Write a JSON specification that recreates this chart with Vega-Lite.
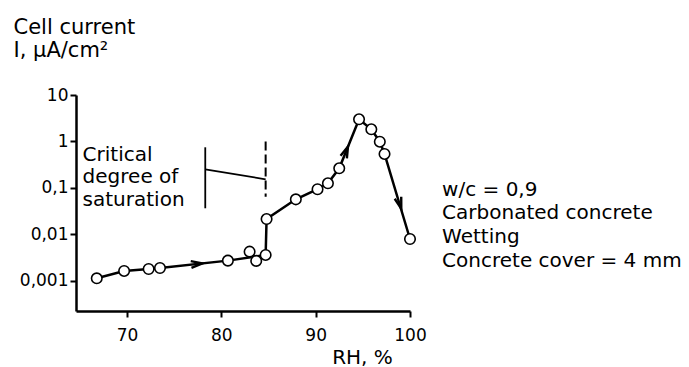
{
  "$schema": "https://vega.github.io/schema/vega-lite/v6.json",
  "width": 334,
  "height": 216,
  "autosize": {"type": "none"},
  "padding": {"left": 76, "top": 95, "right": 279, "bottom": 56},
  "background": "white",
  "config": {
    "view": {"stroke": null},
    "font": "DejaVu Sans",
    "axis": {
      "domainColor": "black",
      "domainWidth": 2.5,
      "tickColor": "black",
      "tickWidth": 2,
      "tickSize": 6,
      "labelColor": "black",
      "labelFont": "DejaVu Sans",
      "labelFontSize": 17,
      "titleColor": "black",
      "titleFont": "DejaVu Sans",
      "titleFontWeight": "normal",
      "grid": false
    }
  },
  "datasets": {
    "points": [
      {"x": 66.8, "y": 0.00114, "onLine": true},
      {"x": 69.7, "y": 0.00164, "onLine": true},
      {"x": 72.3, "y": 0.00181, "onLine": true},
      {"x": 73.5, "y": 0.0019, "onLine": true},
      {"x": 80.7, "y": 0.00274, "onLine": true},
      {"x": 83.0, "y": 0.00427, "onLine": false},
      {"x": 83.7, "y": 0.0027, "onLine": false},
      {"x": 84.7, "y": 0.00363, "onLine": true},
      {"x": 84.8, "y": 0.0215, "onLine": true},
      {"x": 87.9, "y": 0.057, "onLine": true},
      {"x": 90.2, "y": 0.094, "onLine": true},
      {"x": 91.3, "y": 0.126, "onLine": true},
      {"x": 92.5, "y": 0.265, "onLine": true},
      {"x": 94.6, "y": 3.0, "onLine": true},
      {"x": 95.9, "y": 1.83, "onLine": true},
      {"x": 96.8, "y": 0.99, "onLine": true},
      {"x": 97.3, "y": 0.54, "onLine": true},
      {"x": 100, "y": 0.008, "onLine": true}
    ],
    "arrows": [
      {"x": 77.4, "y": 0.00232, "segment": "dry"},
      {"x": 93.2, "y": 0.6, "segment": "rise"},
      {"x": 98.9, "y": 0.047, "segment": "fall"}
    ],
    "bracket": [
      {"x": 78.3, "y": 0.75, "x2": 78.3, "y2": 0.0366},
      {"x": 78.3, "y": 0.252, "x2": 84.7, "y2": 0.154}
    ],
    "dashed": [
      {"x": 84.7, "y": 1.0, "x2": 84.7, "y2": 0.065}
    ],
    "critical": [
      {"x": 65.3, "y": 0.513, "label": "Critical"},
      {"x": 65.3, "y": 0.173, "label": "degree of"},
      {"x": 65.3, "y": 0.0552, "label": "saturation"}
    ],
    "notes": [
      {"x": 103.4, "y": 0.0906, "label": "w/c = 0,9"},
      {"x": 103.4, "y": 0.029, "label": "Carbonated concrete"},
      {"x": 103.4, "y": 0.00883, "label": "Wetting"},
      {"x": 103.4, "y": 0.00269, "label": "Concrete cover = 4 mm"}
    ]
  },
  "encoding": {
    "x": {
      "field": "x",
      "type": "quantitative",
      "scale": {"domain": [64.6, 100], "nice": false, "zero": false},
      "axis": {
        "values": [70, 80, 90, 100],
        "labelPadding": 10,
        "labelFlush": false,
        "title": "RH, %",
        "titleFontSize": 20,
        "titleX": 286,
        "titleY": 52,
        "titleAlign": "center",
        "titleBaseline": "alphabetic"
      }
    },
    "y": {
      "field": "y",
      "type": "quantitative",
      "scale": {"type": "log", "domain": [0.000226, 10], "nice": false},
      "axis": {
        "values": [0.001, 0.01, 0.1, 1, 10],
        "labelExpr": "replace(toString(datum.value), '.', ',')",
        "labelPadding": 2,
        "labelFlush": false,
        "title": ["Cell current", "I, μA/cm²"],
        "titleFontSize": 21,
        "titleLineHeight": 23,
        "titleAngle": 0,
        "titleAlign": "left",
        "titleBaseline": "alphabetic",
        "titleX": -63,
        "titleY": -62
      }
    }
  },
  "layer": [
    {
      "data": {"name": "bracket"},
      "mark": {"type": "rule", "color": "black", "strokeWidth": 1.8},
      "encoding": {"x2": {"field": "x2"}, "y2": {"field": "y2"}}
    },
    {
      "data": {"name": "dashed"},
      "mark": {"type": "rule", "color": "black", "strokeWidth": 2, "strokeDash": [9, 4]},
      "encoding": {"x2": {"field": "x2"}, "y2": {"field": "y2"}}
    },
    {
      "data": {"name": "points"},
      "transform": [{"filter": "datum.onLine"}],
      "mark": {"type": "line", "color": "black", "strokeWidth": 2.5},
      "encoding": {}
    },
    {
      "data": {"name": "arrows"},
      "transform": [{"filter": "datum.segment == 'dry'"}],
      "mark": {"type": "point", "shape": "M -0.45 0.75 L 0 -0.75 L 0.45 0.75", "filled": false, "stroke": "black", "strokeWidth": 2.4, "size": 230, "angle": 84, "opacity": 1}
    },
    {
      "data": {"name": "arrows"},
      "transform": [{"filter": "datum.segment == 'rise'"}],
      "mark": {"type": "point", "shape": "M -0.45 0.75 L 0 -0.75 L 0.45 0.75", "filled": false, "stroke": "black", "strokeWidth": 2.4, "size": 230, "angle": 22, "opacity": 1}
    },
    {
      "data": {"name": "arrows"},
      "transform": [{"filter": "datum.segment == 'fall'"}],
      "mark": {"type": "point", "shape": "M -0.45 0.75 L 0 -0.75 L 0.45 0.75", "filled": false, "stroke": "black", "strokeWidth": 2.4, "size": 230, "angle": 163, "opacity": 1}
    },
    {
      "data": {"name": "points"},
      "mark": {"type": "point", "shape": "circle", "filled": true, "fill": "white", "stroke": "black", "strokeWidth": 1.6, "size": 110, "opacity": 1}
    },
    {
      "data": {"name": "critical"},
      "mark": {"type": "text", "align": "left", "baseline": "middle", "fontSize": 20, "color": "black", "font": "DejaVu Sans"},
      "encoding": {"text": {"field": "label"}}
    },
    {
      "data": {"name": "notes"},
      "mark": {"type": "text", "align": "left", "baseline": "middle", "fontSize": 20, "color": "black", "font": "DejaVu Sans"},
      "encoding": {"text": {"field": "label"}}
    }
  ]
}
